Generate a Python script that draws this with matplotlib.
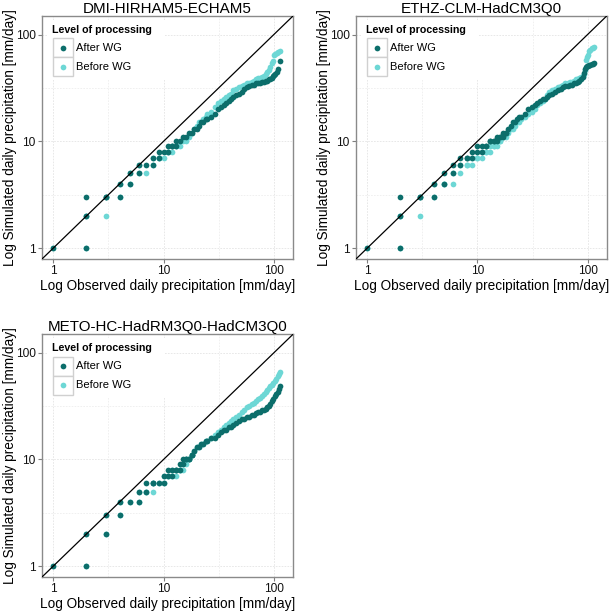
import matplotlib
matplotlib.use('Agg')
import matplotlib.pyplot as plt
from matplotlib.patches import Rectangle
from matplotlib.ticker import NullFormatter

plt.rcParams['font.family'] = ['Liberation Sans', 'DejaVu Sans']

titles = ['DMI-HIRHAM5-ECHAM5', 'ETHZ-CLM-HadCM3Q0', 'METO-HC-HadRM3Q0-HadCM3Q0']
series_labels = ['After WG', 'Before WG']

# DMI-HIRHAM5-ECHAM5: observed quantiles and simulated quantiles after / before WG
dmi_obs = [1, 2, 2, 2, 3, 3, 4, 4, 5, 5, 6, 6, 7, 8, 8, 9, 9, 10, 11, 11, 12, 12, 13, 13, 14,
           15, 16, 17, 18, 19, 20, 21, 22, 23, 24, 25, 27, 29, 31, 33, 35, 37, 39, 41, 43, 45,
           48, 51, 54, 57, 60, 63, 66, 69, 72, 75, 78, 81, 84, 87, 90, 93, 96, 99, 101, 103,
           106, 109, 114]
dmi_after = [1, 1, 2, 3, 3, 3, 3, 4, 4, 5, 5, 6, 6, 6, 7, 7, 8, 8, 8, 9, 9, 9, 9, 10, 10,
             11, 11, 12, 12, 13, 13, 14, 15, 15, 16, 16, 17, 18, 20, 21, 22, 23, 24, 25, 26, 27,
             28, 29, 31, 32, 33, 34, 34, 35, 35, 35, 36, 36, 37, 37, 38, 38, 39, 41, 42, 43,
             45, 48, 56]
dmi_before = [1, 1, 2, 2, 2, 3, 3, 4, 4, 5, 5, 6, 5, 6, 7, 7, 7, 7, 8, 8, 8, 9, 9, 9, 9,
              10, 10, 11, 12, 13, 14, 15, 15, 16, 17, 18, 19, 21, 23, 24, 25, 26, 27, 28, 30, 31,
              32, 33, 34, 35, 35, 36, 37, 38, 39, 39, 40, 41, 43, 45, 47, 50, 54, 57, 64, 66,
              67, 68, 70]

# ETHZ-CLM-HadCM3Q0
ethz_obs = [1, 2, 2, 2, 3, 3, 4, 4, 5, 5, 6, 6, 7, 7, 8, 8, 9, 9, 10, 10, 11, 11, 12, 12,
            13, 13, 14, 14, 15, 15, 16, 16, 17, 17, 18, 18,
            19, 20, 21, 22, 23, 24, 25, 27, 29, 31, 33, 35, 37, 39, 41, 43, 45, 48, 51, 54,
            57, 60, 63, 66, 69, 72, 75, 78, 81, 84, 87, 90, 92, 94, 96, 98, 100, 103, 106,
            109, 112, 115]
ethz_after = [1, 1, 2, 3, 3, 3, 3, 4, 4, 5, 5, 6, 6, 7, 7, 7, 7, 8, 8, 9, 8, 9, 9, 9,
              10, 10, 10, 10, 10, 11, 11, 11, 11, 12, 12, 12,
              13, 14, 15, 15, 16, 17, 17, 18, 20, 21, 22, 23, 24, 25, 25, 26, 27, 28, 29, 30,
              31, 32, 33, 33, 34, 34, 35, 35, 36, 37, 38, 40, 44, 48, 50, 51, 51, 52, 52,
              53, 53, 54]
ethz_before = [1, 1, 2, 2, 2, 3, 3, 4, 4, 4, 4, 5, 5, 6, 6, 6, 6, 7, 7, 7, 7, 8, 8, 8,
               8, 9, 9, 9, 9, 10, 10, 10, 11, 11, 11, 12,
               12, 13, 13, 14, 15, 15, 16, 17, 18, 19, 20, 22, 23, 24, 25, 27, 29, 30, 31, 32,
               33, 34, 35, 35, 36, 36, 37, 38, 38, 39, 40, 41, 43, 47, 58, 61, 64, 70, 72,
               74, 75, 76]

# METO-HC-HadRM3Q0-HadCM3Q0
meto_obs = [1, 2, 2, 3, 3, 4, 4, 5, 6, 6, 7, 7, 8, 8, 9, 10, 10, 11, 11, 12, 12, 13, 13,
            14, 14, 15, 15, 16, 16, 17, 17, 18, 18,
            19, 20, 21, 22, 23, 24, 25, 27, 29, 31, 33, 35, 37, 39, 41, 43, 45, 48, 51, 54,
            57, 60, 63, 66, 69, 72, 75, 78, 81, 84, 87, 90, 93, 96, 99, 102, 105, 108, 111,
            114]
meto_after = [1, 1, 2, 2, 3, 3, 4, 4, 4, 5, 5, 6, 6, 6, 6, 6, 7, 7, 8, 7, 8, 8, 8,
              8, 9, 9, 10, 10, 10, 10, 10, 11, 11,
              12, 13, 13, 14, 14, 15, 15, 16, 16, 17, 18, 19, 19, 20, 20, 21, 22, 23, 24, 24,
              25, 25, 26, 26, 27, 28, 28, 29, 29, 30, 31, 32, 33, 35, 37, 39, 41, 43, 46,
              49]
meto_before = [1, 1, 2, 2, 3, 3, 4, 4, 4, 5, 5, 5, 5, 6, 6, 6, 7, 7, 7, 7, 8, 7, 8,
               8, 8, 8, 9, 9, 10, 10, 10, 11, 11,
               12, 13, 13, 14, 14, 15, 15, 16, 17, 18, 19, 20, 21, 22, 23, 24, 25, 26, 28, 29,
               31, 32, 33, 34, 35, 37, 38, 39, 41, 43, 45, 47, 49, 50, 52, 54, 57, 61, 63,
               66]

panels = [
    (titles[0], dmi_obs, dmi_after, dmi_before),
    (titles[1], ethz_obs, ethz_after, ethz_before),
    (titles[2], meto_obs, meto_after, meto_before),
]

after_col = '#0c6e6b'
before_col = '#6dd7d5'
lim = (0.79, 150)
msize = 17

W, H = 609, 611
# left, top, right, bottom in pixels
boxes = [(42, 15.7, 293.3, 259), (356, 15.7, 607, 259), (42, 334, 293.3, 577)]

fig = plt.figure(figsize=(W / 100, H / 100), dpi=100)

for (title, obs, after, before), (l, t, r, b) in zip(panels, boxes):
    ax = fig.add_axes([l / W, 1 - b / H, (r - l) / W, (b - t) / H])
    wpx, hpx = r - l, b - t

    ax.scatter(obs, before, s=msize, color=before_col, linewidths=0, zorder=2)
    ax.scatter(obs, after, s=msize, color=after_col, linewidths=0, zorder=2.1)
    ax.axline((1, 1), (100, 100), color='black', lw=0.9, zorder=3)

    ax.set_xscale('log')
    ax.set_yscale('log')
    ax.set_xlim(lim)
    ax.set_ylim(lim)
    ax.set_xticks([1, 10, 100])
    ax.set_xticklabels(['1', '10', '100'])
    ax.set_yticks([1, 10, 100])
    ax.set_yticklabels(['1', '10', '100'])
    ax.set_xticks([10 ** 0.5, 10 ** 1.5], minor=True)
    ax.set_yticks([10 ** 0.5, 10 ** 1.5], minor=True)
    ax.xaxis.set_minor_formatter(NullFormatter())
    ax.yaxis.set_minor_formatter(NullFormatter())
    ax.tick_params(which='minor', length=0)
    ax.tick_params(which='major', length=3, width=0.8, color='#7f7f7f',
                   labelsize=8.6, labelcolor='#111111', pad=1.5)
    ax.grid(which='major', color='#e4e4e4', lw=0.6, ls=(0, (2, 1.5)), zorder=0)
    ax.grid(which='minor', color='#eeeeee', lw=0.6, ls=(0, (2, 1.5)), zorder=0)
    ax.set_axisbelow(True)
    for sp in ax.spines.values():
        sp.set_color('#8a8a8a')
        sp.set_linewidth(1.0)

    ax.set_title(title, fontsize=10.9, pad=2)
    ax.set_xlabel('Log Observed daily precipitation [mm/day]', fontsize=9.8, labelpad=1.5)
    ax.set_ylabel('Log Simulated daily precipitation [mm/day]', fontsize=9.8)
    ax.yaxis.set_label_coords(-25 / wpx, 0.5)

    # legend drawn inside the panel
    def fx(dx):
        return dx / wpx

    def fy(dy):
        return 1 - dy / hpx

    ax.add_patch(Rectangle((fx(5), fy(64)), fx(118), 60 / hpx, transform=ax.transAxes,
                           facecolor='white', edgecolor='none', zorder=4))
    ax.text(fx(10), fy(14.3), 'Level of processing', transform=ax.transAxes,
            fontsize=7.7, fontweight='bold', va='center', ha='left', zorder=5)
    for k, (lab, col) in enumerate(zip(series_labels, [after_col, before_col])):
        top = 22.6 + 19 * k
        ax.add_patch(Rectangle((fx(10.7), fy(top + 19)), fx(20.6), 19 / hpx,
                               transform=ax.transAxes, facecolor='white',
                               edgecolor='#d0d0d0', lw=1.0, zorder=5))
        ax.scatter([fx(21)], [fy(top + 9.5)], s=msize, color=col, linewidths=0,
                   transform=ax.transAxes, zorder=6, clip_on=False)
        ax.text(fx(34), fy(top + 9.5), lab, transform=ax.transAxes, fontsize=8,
                va='center', ha='left', zorder=6)

fig.savefig('out.png', dpi=100)
